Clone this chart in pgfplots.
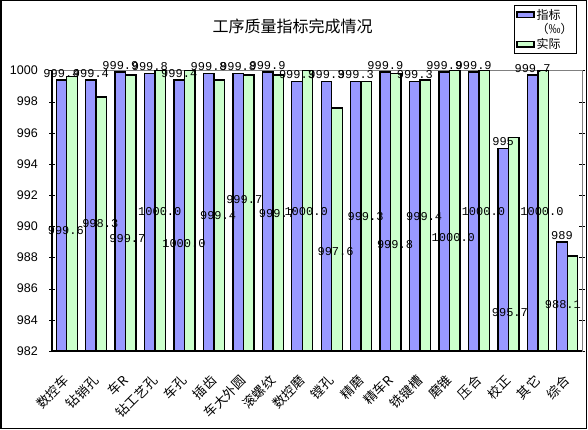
\documentclass[border=0pt]{standalone}
\usepackage{pgfplots}
\pgfplotsset{compat=1.18}
\usepackage{fontspec}
\setmainfont{Liberation Sans}
\newfontfamily\cjk{Noto Sans CJK SC}
\newfontfamily\mono{Liberation Mono}
\definecolor{barblue}{HTML}{9999FF}
\definecolor{bargreen}{HTML}{CCFFCC}
\definecolor{framegray}{HTML}{808080}
\begin{document}
\begin{tikzpicture}[x=1pt,y=1pt]
\useasboundingbox (0,0) rectangle (588,429);
\draw[line width=1.5pt] (0.75,0.75) rectangle (586.5,428.25);
\node[font=\cjk\fontsize{16}{18}\selectfont] at (292.5,403) {工序质量指标完成情况};
\begin{axis}[
  at={(52pt,78pt)}, anchor=south west, scale only axis,
  width=530pt, height=280.5pt,
  ymin=982, ymax=1000, ytick={982,984,...,1000},
  xmin=0.5, xmax=18.5,
  xtick={1,...,18},
  xticklabels={数控车,钻销孔,车R,钻工艺孔,车孔,插齿,车大外圆,滚螺纹,数控磨,镗孔,精磨,精车R,铣键槽,磨锥,压合,校正,其它,综合},
  x tick style={draw=none},
  extra x ticks={0.5,1.5,...,18.5},
  extra x tick labels={},
  extra x tick style={tick align=outside, major tick length=4pt, tick style={draw=black}},
  xticklabel style={font=\cjk\fontsize{13}{13}\selectfont, rotate=45, anchor=east, inner sep=0pt},
  xticklabel shift=21pt,
  y tick style={black},
  tick align=center, major tick length=6pt,
  yticklabel style={font=\fontsize{12.5}{13}\selectfont, inner sep=0pt},
  yticklabel shift=11pt,
  /pgf/number format/assume math mode=true,
  /pgf/number format/1000 sep={},
  axis line style={framegray, line width=1pt},
  ybar=0pt, bar width=10.5pt,
  clip=false,
  point meta=explicit symbolic,
  legend entries={指标,（‰）,实际},
  legend style={at={(0.872,1.2335)}, anchor=north west, draw=black, line width=1pt,
    font=\cjk\fontsize{12}{13}\selectfont, inner sep=1.5pt, row sep=-1pt,
    cells={anchor=west}},
  area legend,
]
\addplot[fill=barblue, draw=black, line width=1.4pt,
  nodes near coords, every node near coord/.append style={font=\mono\fontsize{12}{12}\selectfont, inner sep=1pt, anchor=south, yshift=1pt}]
  coordinates {
  (1,999.4) [999.4] (2,999.4) [999.4] (3,999.9) [999.9] (4,999.8) [999.8]
  (5,999.4) [999.4] (6,999.8) [999.8] (7,999.8) [999.8] (8,999.9) [999.9]
  (9,999.3) [999.3] (10,999.3) [999.3] (11,999.3) [999.3] (12,999.9) [999.9]
  (13,999.3) [999.3] (14,999.9) [999.9] (15,999.9) [999.9] (16,995) [995]
  (17,999.7) [999.7] (18,989) [989]
  };
\addlegendimage{empty legend}
\addplot[fill=bargreen, draw=black, line width=1.4pt]
  coordinates {
  (1,999.6) (2,998.3) (3,999.7) (4,1000.0) (5,1000.0) (6,999.4) (7,999.7) (8,999.7)
  (9,1000.0) (10,997.6) (11,999.3) (12,999.8) (13,999.4) (14,1000.0) (15,1000.0)
  (16,995.7) (17,1000.0) (18,988.1)
  };
\draw[black, line width=1.2pt] (rel axis cs:0,0) -- (rel axis cs:0,1);
\draw[black, line width=1.2pt] (rel axis cs:0,0) -- (rel axis cs:1,0);
\begin{scope}[every node/.style={font=\mono\fontsize{12}{12}\selectfont, inner sep=0pt}]
\node at (axis cs:0.97,989.76) {999.6};
\node at (axis cs:2.14,990.19) {998.3};
\node at (axis cs:3.06,989.23) {999.7};
\node at (axis cs:4.16,990.94) {1000.0};
\node at (axis cs:4.98,988.91) {1000.0};
\node at (axis cs:6.14,990.68) {999.4};
\node at (axis cs:7.03,991.75) {999.7};
\node at (axis cs:8.14,990.83) {999.7};
\node at (axis cs:9.13,990.92) {1000.0};
\node at (axis cs:10.13,988.37) {997.6};
\node at (axis cs:11.15,990.62) {999.3};
\node at (axis cs:12.15,988.84) {999.8};
\node at (axis cs:13.14,990.62) {999.4};
\node at (axis cs:14.13,989.27) {1000.0};
\node at (axis cs:15.15,990.94) {1000.0};
\node at (axis cs:16.05,984.45) {995.7};
\node at (axis cs:17.14,990.94) {1000.0};
\node at (axis cs:17.85,984.95) {988.1};
\end{scope}
\end{axis}
\end{tikzpicture}
\end{document}
